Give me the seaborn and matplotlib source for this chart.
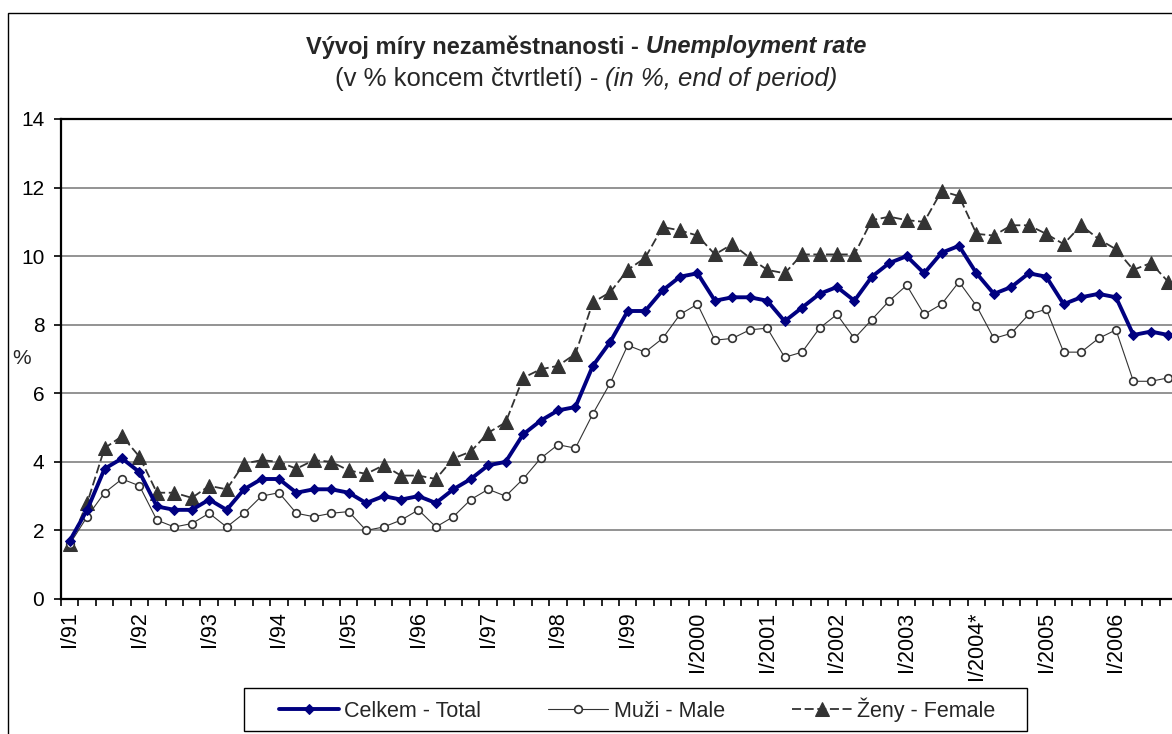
"""
Unemployment rate in the Czech Republic, quarterly 1991-2006
(total / male / female), end-of-quarter values in %.
"""

import numpy as np
import pandas as pd
import matplotlib
matplotlib.use("Agg")
import matplotlib.pyplot as plt
from matplotlib.patches import Rectangle
import seaborn as sns

# ---------------------------------------------------------------------------
# Data (one value per quarter I/91 .. IV/2006)
# ---------------------------------------------------------------------------
YEAR_LABELS = ["I/91", "I/92", "I/93", "I/94", "I/95", "I/96", "I/97", "I/98",
               "I/99", "I/2000", "I/2001", "I/2002", "I/2003", "I/2004*",
               "I/2005", "I/2006"]

TOTAL = [1.7, 2.6, 3.8, 4.1, 3.7, 2.7, 2.6, 2.6, 2.9, 2.6, 3.2, 3.5, 3.5, 3.1,
         3.2, 3.2, 3.1, 2.8, 3.0, 2.9, 3.0, 2.8, 3.2, 3.5, 3.9, 4.0, 4.8, 5.2,
         5.5, 5.6, 6.8, 7.5, 8.4, 8.4, 9.0, 9.4, 9.5, 8.7, 8.8, 8.8, 8.7, 8.1,
         8.5, 8.9, 9.1, 8.7, 9.4, 9.8, 10.0, 9.5, 10.1, 10.3, 9.5, 8.9, 9.1,
         9.5, 9.4, 8.6, 8.8, 8.9, 8.8, 7.7, 7.8, 7.7]

MALE = [1.6, 2.4, 3.1, 3.5, 3.3, 2.3, 2.1, 2.2, 2.5, 2.1, 2.5, 3.0, 3.1, 2.5,
        2.4, 2.5, 2.55, 2.0, 2.1, 2.3, 2.6, 2.1, 2.4, 2.9, 3.2, 3.0, 3.5, 4.1,
        4.5, 4.4, 5.4, 6.3, 7.4, 7.2, 7.6, 8.3, 8.6, 7.55, 7.6, 7.85, 7.9,
        7.05, 7.2, 7.9, 8.3, 7.6, 8.15, 8.7, 9.15, 8.3, 8.6, 9.25, 8.55, 7.6,
        7.75, 8.3, 8.45, 7.2, 7.2, 7.6, 7.85, 6.35, 6.35, 6.45]

FEMALE = [1.6, 2.8, 4.4, 4.75, 4.15, 3.1, 3.1, 2.95, 3.3, 3.2, 3.95, 4.05, 4.0,
          3.8, 4.05, 4.0, 3.75, 3.65, 3.9, 3.6, 3.6, 3.5, 4.1, 4.3, 4.85, 5.15,
          6.45, 6.7, 6.8, 7.15, 8.65, 8.95, 9.6, 9.95, 10.85, 10.75, 10.6,
          10.05, 10.35, 9.95, 9.6, 9.5, 10.05, 10.05, 10.05, 10.05, 11.05,
          11.15, 11.05, 11.0, 11.9, 11.75, 10.65, 10.6, 10.9, 10.9, 10.65,
          10.35, 10.9, 10.5, 10.2, 9.6, 9.8, 9.25]

SERIES_NAMES = ["Celkem - Total", "Muži - Male", "Ženy - Female"]

NAVY = "#000080"
DARK = "#333333"
FONT = ["Liberation Sans", "DejaVu Sans"]


def rich_line(fig, y, parts, size):
    """Centre a line of text made of pieces with different weight/style."""
    renderer = fig.canvas.get_renderer()
    probe = fig.text(0, 0, "a a", fontsize=size)
    probe2 = fig.text(0, 0, "aa", fontsize=size)
    space = (probe.get_window_extent(renderer).width
             - probe2.get_window_extent(renderer).width)
    probe.remove()
    probe2.remove()

    texts = [fig.text(0, y, s, fontsize=size, fontweight=w, fontstyle=st,
                      va="center", ha="left")
             for s, w, st in parts]
    widths = [t.get_window_extent(renderer).width for t in texts]
    total = sum(widths) + space * (len(texts) - 1)
    x = (fig.bbox.width - total) / 2
    for t, w in zip(texts, widths):
        t.set_x(x / fig.bbox.width)
        x += w + space


def main():
    sns.set_theme(style="white")
    plt.rcParams["font.family"] = FONT

    df = pd.DataFrame({
        "q": np.arange(len(TOTAL)),
        "total": TOTAL,
        "male": MALE,
        "female": FEMALE,
    })

    fig = plt.figure(figsize=(11.72, 7.34), dpi=100)
    W, H = 1172, 734
    ax = fig.add_axes([61 / W, 1 - 599 / H, (1177 - 61) / W, 480 / H])

    sns.lineplot(data=df, x="q", y="female", ax=ax, color=DARK, lw=1.3,
                 dashes=False, linestyle=(0, (5, 2)), marker="^",
                 markersize=10, markerfacecolor=DARK, markeredgecolor=DARK,
                 label=SERIES_NAMES[2], zorder=3)
    sns.lineplot(data=df, x="q", y="male", ax=ax, color=DARK, lw=0.8,
                 marker="o", markersize=5.5, markerfacecolor="white",
                 markeredgecolor=DARK, markeredgewidth=1.2,
                 label=SERIES_NAMES[1], zorder=4)
    sns.lineplot(data=df, x="q", y="total", ax=ax, color=NAVY, lw=2.8,
                 marker="D", markersize=5.5, markerfacecolor=NAVY,
                 markeredgecolor=NAVY, label=SERIES_NAMES[0], zorder=5)
    if ax.get_legend() is not None:
        ax.get_legend().remove()

    # axes
    ax.set_xlim(-0.5, len(TOTAL) - 0.5)
    ax.set_ylim(0, 14)
    ax.set_yticks(range(0, 15, 2))
    ax.set_xticks(np.arange(0, len(TOTAL), 4))
    ax.set_xticklabels(YEAR_LABELS, rotation=90, va="top", ha="center")
    ax.set_xticks(np.arange(-0.5, len(TOTAL), 1), minor=True)
    ax.tick_params(axis="x", which="major", length=0, pad=9, labelsize=15.5,
                   colors="black")
    ax.tick_params(axis="x", which="minor", length=5, width=1.2,
                   direction="out", color="black", bottom=True)
    ax.tick_params(axis="y", length=5, width=1.2, direction="out",
                   pad=7, labelsize=15, colors="black", left=True)
    ax.set_xlabel("")
    ax.set_ylabel("")
    ax.yaxis.grid(True, color="#808080", lw=1.2)
    ax.set_axisbelow(True)
    for side in ["top", "left", "bottom", "right"]:
        ax.spines[side].set_color("black")
        ax.spines[side].set_linewidth(1.6)

    fig.text(22 / W, 1 - 358 / H, "%", fontsize=15, ha="center", va="center")

    # titles
    rich_line(fig, 1 - 47 / H,
              [("Vývoj míry nezaměstnanosti -", "bold", "normal"),
               ("Unemployment rate", "bold", "italic")], 17)
    rich_line(fig, 1 - 79 / H,
              [("(v % koncem čtvrtletí) -", "normal", "normal"),
               ("(in %, end of period)", "normal", "italic")], 18.5)

    # outer chart frame (cropped on the right and bottom)
    fig.patches.append(Rectangle((8 / W, -0.1), 1.2, 1.1 - 13 / H,
                                 transform=fig.transFigure, fill=False,
                                 edgecolor="black", lw=1.0))

    # legend: entries laid out by matplotlib, box drawn at the reference size
    handles, labels = ax.get_legend_handles_labels()
    order = [labels.index(n) for n in SERIES_NAMES]
    fig.legend([handles[i] for i in order], SERIES_NAMES, loc="center",
               bbox_to_anchor=(637 / W, 1 - 709.5 / H), ncol=3,
               fontsize=15.5, frameon=False, handlelength=2.8,
               columnspacing=3.1, borderpad=0.45, handletextpad=0.25)
    fig.patches.append(Rectangle((244 / W, 1 - 731 / H), (1027 - 244) / W,
                                 43 / H, transform=fig.transFigure,
                                 facecolor="white", edgecolor="black",
                                 lw=1.0, zorder=0))

    fig.savefig("out.png", dpi=100, facecolor="white")
    plt.close(fig)


if __name__ == "__main__":
    main()
